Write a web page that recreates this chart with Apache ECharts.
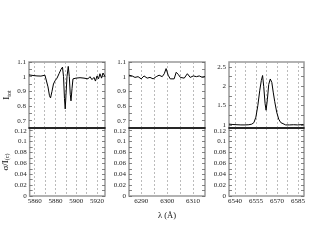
<!DOCTYPE html>
<html><head><meta charset="utf-8">
<script src="https://cdn.jsdelivr.net/npm/echarts@6/dist/echarts.min.js"></script>
<style>html,body{margin:0;padding:0;background:#fff}#c{width:317px;height:245px}</style>
</head><body><div id="c"></div>
<script>
// Panel 1: He I 5876 / Na D
const p1Wave = [5855.2,5857.1,5859.0,5860.9,5862.8,5864.7,5866.6,5868.5,5870.4,5871.9,5873.3,5874.7,5875.7,5877.1,5878.5,5880.0,5881.9,5883.8,5885.7,5887.1,5888.1,5889.0,5889.7,5890.4,5891.4,5892.6,5893.6,5894.5,5895.2,5896.2,5897.1,5898.1,5900.0,5901.9,5903.8,5905.7,5907.6,5909.5,5911.4,5913.3,5915.2,5917.1,5918.5,5920.0,5921.4,5922.8,5924.3,5925.7,5927.6];
const p1Flux = [1.012,1.015,1.008,1.013,1.005,1.01,1.004,1.012,1.01,1.0,0.93,0.87,0.855,0.9,0.95,0.972,0.99,1.02,1.05,1.065,1.0,0.85,0.78,0.87,1.0,1.07,1.0,0.88,0.835,0.92,0.985,0.995,0.99,1.0,0.993,1.003,0.99,1.0,0.985,1.0,0.98,0.995,0.97,1.005,0.985,1.02,0.99,1.025,1.0];
// Panel 2: [O I] 6300
const p2Wave = [6285.3,6286.5,6287.6,6288.8,6290.0,6291.1,6292.3,6293.4,6294.6,6295.8,6296.9,6298.1,6298.9,6299.6,6300.4,6301.2,6301.9,6302.7,6303.5,6304.3,6305.1,6305.8,6306.6,6307.8,6308.9,6310.1,6311.3,6312.4,6313.6,6314.6];
const p2Flux = [1.01,1.005,0.995,1.0,0.985,1.005,0.99,0.995,0.985,1.0,1.01,1.0,1.02,1.055,1.01,0.985,0.99,0.985,1.03,1.015,0.995,1.0,0.99,1.02,0.995,1.005,1.0,1.005,0.995,1.0];
// Panel 3: H alpha
const p3Wave = [6535.7,6538.5,6541.4,6544.2,6547.1,6549.9,6552.0,6553.5,6554.9,6556.3,6557.7,6558.8,6559.7,6560.5,6561.5,6562.2,6563.1,6564.1,6565.2,6566.3,6567.3,6568.4,6569.8,6571.2,6572.7,6574.1,6576.2,6579.1,6581.9,6584.7,6589.0];
const p3Flux = [1.02,1.01,1.005,1.0,1.0,1.005,1.02,1.06,1.2,1.5,1.9,2.15,2.28,2.0,1.55,1.38,1.65,2.05,2.19,2.1,1.85,1.6,1.33,1.15,1.06,1.02,1.0,1.0,1.005,1.0,1.01];

const xRanges = [[5855.2,5927.6],[6285.3,6314.6],[6535.7,6589.3]];
const xGrid = [[5860,5870,5880,5890,5900,5910,5920],[6290,6295,6300,6305,6310],[6540,6547.5,6555,6562.5,6570,6577.5,6585]];
const xLabels = [[5860,5880,5900,5920],[6290,6300,6310],[6540,6555,6570,6585]];
const topYRanges = [[0.65,1.1],[0.65,1.1],[0.92,2.63]];
const topYLabels = [[0.7,0.8,0.9,1,1.1],[0.7,0.8,0.9,1,1.1],[1,1.5,2,2.5]];
const topYTicks = [[0.7,0.75,0.8,0.85,0.9,0.95,1,1.05,1.1],[0.7,0.75,0.8,0.85,0.9,0.95,1,1.05,1.1],[1,1.25,1.5,1.75,2,2.25,2.5]];
const botYLabels = [0,0.02,0.04,0.06,0.08,0.1,0.12];
const botYTicks = [0,0.01,0.02,0.03,0.04,0.05,0.06,0.07,0.08,0.09,0.1,0.11,0.12];

const spectra = [[p1Wave,p1Flux],[p2Wave,p2Flux],[p3Wave,p3Flux]];
const lefts = [29,129,229], widths = [76,76,75];
const FONT = 'Liberation Serif';
const grids=[], xAxis=[], yAxis=[], series=[];
const fmt = v => String(+v.toFixed(4));

for (let i=0;i<3;i++){
  for (let row=0; row<2; row++){
    const gi = grids.length;
    grids.push({left:lefts[i], width:widths[i], top: row===0?62:128, height: row===0?66:68,
      show:true, borderColor:'#999', borderWidth:1.5, backgroundColor:'transparent', containLabel:false});
    xAxis.push({type:'value', gridIndex:gi, min:xRanges[i][0], max:xRanges[i][1],
      axisLine:{show: row===0, lineStyle:{color:'#000', width:1.5}},
      axisTick:{show:false, customValues:xGrid[i]},
      splitLine:{show:true, lineStyle:{color:'#aaa', type:[2,2], width:0.8}},
      axisLabel:{show: row===1, customValues:xLabels[i], formatter:fmt, fontFamily:FONT, fontSize:7, color:'#222', margin:2},
      name: (row===1 && i===1) ? 'λ (Å)' : '', nameLocation:'middle', nameGap:15,
      nameTextStyle:{fontFamily:FONT, fontSize:8.5, color:'#111'}
    });
    const yr = row===0 ? topYRanges[i] : [0,0.125];
    const yl = row===0 ? topYLabels[i] : botYLabels;
    const yt = row===0 ? topYTicks[i] : botYTicks;
    let nm = '';
    if (i===0) nm = row===0 ? '{a|I}{s|tot}' : '{a|σ/I}{s|(c)}';
    yAxis.push({type:'value', gridIndex:gi, min:yr[0], max:yr[1], position:'left',
      axisLine:{show:false}, splitLine:{show:false},
      axisTick:{show:true, inside:true, length:3, customValues:yt, lineStyle:{color:'#666', width:0.8}},
      axisLabel:{customValues:yl, formatter:fmt, fontFamily:FONT, fontSize:7, color:'#222', margin:3},
      name:nm, nameLocation:'middle', nameGap: row===0?17:19, nameRotate:90,
      nameTextStyle:{rich:{a:{fontFamily:FONT, fontSize:9, color:'#111'}, s:{fontFamily:FONT, fontSize:6, color:'#111', verticalAlign:'bottom', padding:[4,0,0,0]}}}
    });
    yAxis.push({type:'value', gridIndex:gi, min:yr[0], max:yr[1], position:'right',
      axisLine:{show:false}, splitLine:{show:false},
      axisTick:{show:true, inside:true, length:3, customValues:yt, lineStyle:{color:'#666', width:0.8}},
      axisLabel:{show:false}
    });
    const xi = xAxis.length-1, yi = yAxis.length-2;
    if (row===0){
      const [w,f] = spectra[i];
      series.push({type:'line', xAxisIndex:xi, yAxisIndex:yi, data:w.map((v,k)=>[v,f[k]]),
        symbol:'none', smooth:false, lineStyle:{color:'#000', width:1}, silent:true, animation:false});
    } else {
      series.push({type:'line', xAxisIndex:xi, yAxisIndex:yi, data:[], symbol:'none', animation:false});
    }
  }
}
const chart = echarts.init(document.getElementById('c'));
chart.setOption({animation:false, grid:grids, xAxis, yAxis, series});
</script></body></html>
